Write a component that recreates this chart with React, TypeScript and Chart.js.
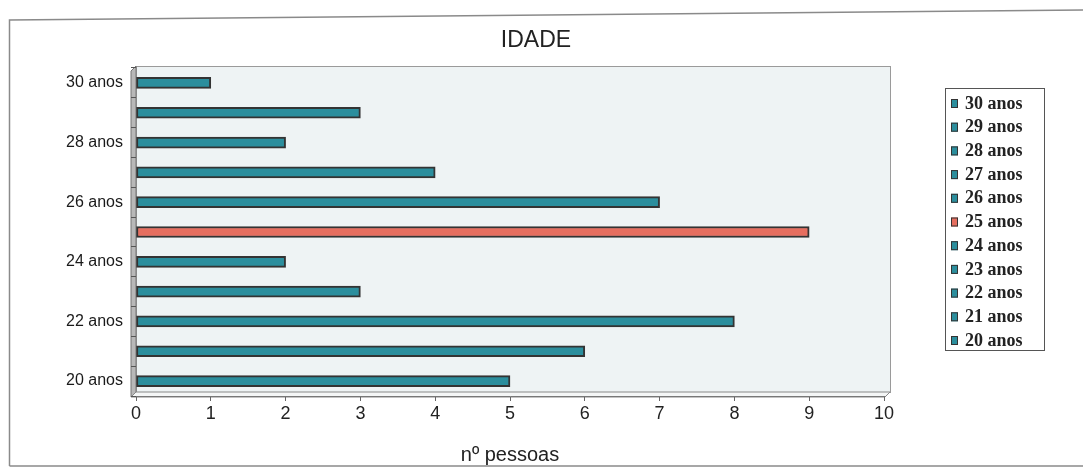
import { useEffect, useRef } from 'react';
import { Chart, registerables } from 'chart.js';

Chart.register(...registerables);

const categories = ['20 anos', '21 anos', '22 anos', '23 anos', '24 anos', '25 anos', '26 anos', '27 anos', '28 anos', '29 anos', '30 anos'];
const counts = [5, 6, 8, 3, 2, 9, 7, 4, 2, 3, 1];
const highlightedCategory = '25 anos';
const chartTitle = 'IDADE';
const xAxisTitle = 'nº pessoas';
const xMin = 0;
const xMax = 10;

const TEAL = '#2b8e9d';
const RED = '#e66e5f';
const barColors = categories.map((c) => (c === highlightedCategory ? RED : TEAL));

const decorPlugin = {
  id: 'decor',
  beforeDraw(chart: any) {
    const { ctx, chartArea } = chart;
    const { left, right, top, bottom } = chartArea;
    ctx.save();
    // frame
    ctx.strokeStyle = '#8a8a8a';
    ctx.lineWidth = 1.5;
    ctx.beginPath();
    ctx.moveTo(9.5, 466);
    ctx.lineTo(9.5, 20);
    ctx.lineTo(1083, 10);
    ctx.stroke();
    ctx.beginPath();
    ctx.moveTo(9.5, 466);
    ctx.lineTo(1083, 466);
    ctx.stroke();
    // back wall
    ctx.fillStyle = '#eef3f4';
    ctx.fillRect(left, top - 2, right - left + 6, bottom - top - 2);
    ctx.strokeStyle = '#9a9a9a';
    ctx.lineWidth = 1;
    ctx.strokeRect(left + 0.5, top - 1.5, right - left + 6, bottom - top - 2);
    // left side wall
    ctx.fillStyle = '#b8b8b8';
    ctx.beginPath();
    ctx.moveTo(left - 5, top + 3);
    ctx.lineTo(left, top - 2);
    ctx.lineTo(left, bottom - 4);
    ctx.lineTo(left - 5, bottom + 1);
    ctx.closePath();
    ctx.fill();
    ctx.strokeStyle = '#777';
    ctx.stroke();
    // floor
    ctx.fillStyle = '#f4f6f6';
    ctx.beginPath();
    ctx.moveTo(left - 5, bottom + 1);
    ctx.lineTo(left, bottom - 4);
    ctx.lineTo(right + 6, bottom - 4);
    ctx.lineTo(right + 1, bottom + 1);
    ctx.closePath();
    ctx.fill();
    ctx.strokeStyle = '#888';
    ctx.stroke();
    // title
    ctx.fillStyle = '#222';
    ctx.font = '23px Arial, "Liberation Sans", sans-serif';
    ctx.textAlign = 'center';
    ctx.textBaseline = 'middle';
    ctx.fillText(chartTitle, 536, 41);
    ctx.restore();
  },
  afterDraw(chart: any) {
    const { ctx } = chart;
    ctx.save();
    // legend box
    const bx = 945, by = 88, bw = 99, bh = 262;
    ctx.fillStyle = '#ffffff';
    ctx.fillRect(bx, by, bw, bh);
    ctx.strokeStyle = '#555';
    ctx.lineWidth = 1;
    ctx.strokeRect(bx + 0.5, by + 0.5, bw, bh);
    ctx.font = 'bold 18px "Liberation Serif", "Times New Roman", serif';
    ctx.textAlign = 'left';
    ctx.textBaseline = 'middle';
    const n = categories.length;
    for (let k = 0; k < n; k++) {
      const i = n - 1 - k;
      const y = 103 + k * 23.7;
      ctx.fillStyle = barColors[i];
      ctx.fillRect(951, y - 4, 7, 9);
      ctx.strokeStyle = '#333';
      ctx.strokeRect(951.5, y - 3.5, 6, 8);
      ctx.fillStyle = '#222';
      ctx.fillText(categories[i], 965, y + 1);
    }
    ctx.restore();
  },
};

export default function App() {
  const ref = useRef<HTMLCanvasElement>(null);
  useEffect(() => {
    if (!ref.current) return;
    const chart = new Chart(ref.current, {
      type: 'bar',
      data: {
        labels: categories,
        datasets: [
          {
            label: xAxisTitle,
            data: counts,
            backgroundColor: barColors,
            borderColor: '#333',
            borderWidth: 2,
            barThickness: 11,
            borderSkipped: false,
          },
        ],
      },
      options: {
        indexAxis: 'y',
        animation: false,
        responsive: false,
        layout: { padding: { left: 0, right: 199, top: 68, bottom: 0 } },
        plugins: {
          legend: { display: false },
          title: { display: false },
          tooltip: { enabled: false },
        },
        scales: {
          x: {
            min: xMin,
            max: xMax,
            ticks: {
              stepSize: 1,
              color: '#222',
              font: { family: 'Arial, "Liberation Sans", sans-serif', size: 18 },
              padding: 2,
            },
            grid: { drawOnChartArea: false, tickLength: 5, color: '#666' },
            border: { display: true, color: '#777' },
            title: {
              display: true,
              text: xAxisTitle,
              color: '#222',
              font: { family: 'Arial, "Liberation Sans", sans-serif', size: 20 },
              padding: { top: 0, bottom: 1 },
            },
            afterFit: (s: any) => {
              s.height = 72;
            },
          },
          y: {
            reverse: true,
            ticks: {
              color: '#1a1a1a',
              autoSkip: false,
              font: { family: 'Arial, "Liberation Sans", sans-serif', size: 16 },
              padding: 8,
              callback: function (this: any, value: any, index: number) {
                return index % 2 === 0 ? this.getLabelForValue(value) : '';
              },
            },
            grid: { drawOnChartArea: false, tickLength: 5, color: '#555', offset: true },
            border: { display: false },
            afterFit: (s: any) => {
              s.width = 136;
            },
          },
        },
      },
      plugins: [decorPlugin],
    });
    return () => chart.destroy();
  }, []);
  return (
    <div style={{ position: 'absolute', left: 0, top: 0, width: 1083, height: 468 }}>
      <canvas ref={ref} width={1083} height={468} style={{ display: 'block' }} />
    </div>
  );
}
